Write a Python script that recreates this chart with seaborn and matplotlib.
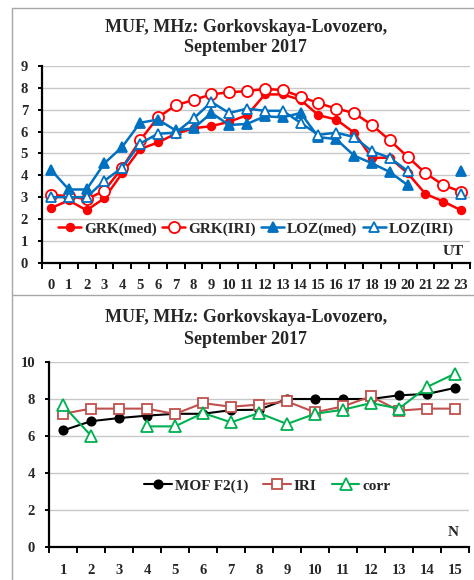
import numpy as np
import pandas as pd
import matplotlib
matplotlib.use("Agg")
import matplotlib.pyplot as plt
from matplotlib.lines import Line2D
import seaborn as sns

# ---------------- data ----------------
hours = list(range(24))
grk_med = [2.5, 2.85, 2.4, 2.95, 4.1, 5.2, 5.5, 5.9, 6.15, 6.25, 6.45, 6.75, 7.7, 7.7,
           7.45, 6.75, 6.55, 5.95, 4.8, 4.8, 4.1, 3.15, 2.8, 2.4]
grk_iri = [3.1, 3.05, 2.9, 3.3, 4.35, 5.6, 6.65, 7.2, 7.45, 7.7, 7.8, 7.85, 7.95, 7.9,
           7.6, 7.3, 7.05, 6.85, 6.3, 5.6, 4.85, 4.1, 3.55, 3.25]
loz_med = [4.25, 3.35, 3.35, 4.55, 5.3, 6.4, 6.55, 6.05, 6.15, 6.85, 6.3, 6.35, 6.7, 6.65,
           6.85, 5.75, 5.65, 4.9, 4.55, 4.15, 3.55, np.nan, np.nan, 4.2]
loz_iri = [3.0, 3.0, 3.0, 3.75, 4.35, 5.45, 5.9, 5.95, 6.6, 7.35, 6.85, 7.05, 6.95, 6.95,
           6.4, 5.85, 5.95, 5.75, 5.1, 4.8, 4.2, np.nan, np.nan, 3.15]
top_labels = ["GRK(med)", "GRK(IRI)", "LOZ(med)", "LOZ(IRI)"]

n_days = list(range(1, 16))
mof_f2 = [6.3, 6.8, 6.97, 7.1, 7.2, 7.2, 7.4, 7.42, 8.0, 8.0, 8.0, 8.0, 8.2, 8.27, 8.6]
iri = [7.2, 7.48, 7.48, 7.48, 7.19, 7.78, 7.58, 7.7, 7.87, 7.28, 7.6, 8.14, 7.37, 7.48, 7.48]
corr = [7.66, 6.02, np.nan, 6.52, 6.52, 7.24, 6.74, 7.24, 6.65, 7.2, 7.42, 7.78, 7.48, 8.65, 9.37]
bottom_labels = ["MOF F2(1)", "IRI", "corr"]

title_l1 = "MUF, MHz: Gorkovskaya-Lovozero,"
title_l2 = "September 2017"

# ---------------- style ----------------
sns.set_theme(style="white")
plt.rcParams["font.family"] = ["Liberation Serif", "DejaVu Serif"]
plt.rcParams["font.weight"] = "bold"

W, H = 474, 580
fig = plt.figure(figsize=(W / 100, H / 100), dpi=100)


def fx(px):
    return px / W


def fy(py):
    return 1 - py / H


def draw(ax, x, y, color, marker, ms, filled, lw=1.6, mew=1.3):
    y = np.asarray(y, dtype=float)
    seg = np.cumsum(np.isnan(y))
    df = pd.DataFrame({"x": x, "y": y, "seg": seg}).dropna()
    sns.lineplot(data=df, x="x", y="y", units="seg", estimator=None, ax=ax,
                 color=color, linewidth=lw, marker=marker, markersize=ms,
                 markeredgecolor=color, markeredgewidth=mew,
                 markerfacecolor=color if filled else "white", legend=False)
    return Line2D([], [], color=color, linewidth=lw, marker=marker, markersize=ms,
                  markeredgecolor=color, markeredgewidth=mew,
                  markerfacecolor=color if filled else "white")


def style_axes(ax, ymax, ystep, xmin, xmax, xticks):
    ax.set_xlim(xmin, xmax)
    ax.set_ylim(0, ymax)
    ax.set_yticks(np.arange(0, ymax + 0.01, ystep))
    ax.set_xticks(xticks)
    ax.set_xticks(np.arange(xmin, xmax + 0.01, 1), minor=True)
    ax.yaxis.grid(True, color="#C8C8C8", linewidth=1)
    ax.xaxis.grid(False)
    ax.set_axisbelow(True)
    for s in ["top", "right"]:
        ax.spines[s].set_visible(False)
    for s in ["left", "bottom"]:
        ax.spines[s].set_color("black")
        ax.spines[s].set_linewidth(1.6)
    ax.tick_params(axis="x", which="major", length=0, labelsize=10.5, pad=12)
    ax.tick_params(axis="x", which="minor", direction="out", length=4, width=1.4,
                   color="black", bottom=True)
    ax.tick_params(axis="y", which="major", direction="out", length=3, width=1.4,
                   color="black", left=True, labelsize=10.5, pad=7)
    for t in ax.get_xticklabels() + ax.get_yticklabels():
        t.set_fontweight("bold")
    ax.set_xlabel("")
    ax.set_ylabel("")


# ---------------- panel borders ----------------
border = "#A6A6A6"
fig.add_artist(Line2D([fx(12), fx(12)], [0, fy(8)], transform=fig.transFigure, color=border, lw=1))
fig.add_artist(Line2D([fx(12), 1], [fy(8), fy(8)], transform=fig.transFigure, color=border, lw=1))
fig.add_artist(Line2D([fx(12), 1], [fy(295), fy(295)], transform=fig.transFigure, color=border, lw=1))

# ---------------- top chart ----------------
ax1 = fig.add_axes([fx(42), fy(262.7), fx(470) - fx(42), fy(66) - fy(262.7)])
red = "#FF0000"
blue = "#0070C0"
h1 = draw(ax1, hours, grk_med, red, "o", 5.5, True, lw=1.8)
h2 = draw(ax1, hours, grk_iri, red, "o", 8, False, lw=1.8)
h3 = draw(ax1, hours, loz_med, blue, "^", 7.5, True, lw=1.8)
h4 = draw(ax1, hours, loz_iri, blue, "^", 7.5, False, lw=1.8)
style_axes(ax1, 9, 1, -0.5, 23.5, hours)
ax1.set_xticklabels([str(h) for h in hours], fontweight="bold")
ax1.legend([h1, h2, h3, h4], top_labels, ncol=4, loc="center", bbox_to_anchor=(0.5, 0.172),
           frameon=False, prop={"size": 11, "weight": "bold"}, handlelength=1.5,
           handletextpad=0.2, columnspacing=0.35, borderaxespad=0)
ax1.text(0.985, 0.055, "UT", transform=ax1.transAxes, ha="right", va="center",
         fontsize=11, fontweight="bold")

fig.text(fx(246), fy(28), title_l1, ha="center", va="center", fontsize=13, fontweight="bold")
fig.text(fx(246), fy(47), title_l2, ha="center", va="center", fontsize=13, fontweight="bold")

# ---------------- bottom chart ----------------
ax2 = fig.add_axes([fx(49), fy(547), fx(469) - fx(49), fy(362) - fy(547)])
g1 = draw(ax2, n_days, mof_f2, "black", "o", 6, True, lw=1.5)
g2 = draw(ax2, n_days, iri, "#C0504D", "s", 7, False, lw=1.5)
g3 = draw(ax2, n_days, corr, "#00B050", "^", 8, False, lw=1.5)
style_axes(ax2, 10, 2, 0.5, 15.5, n_days)
ax2.set_xticklabels([str(n) for n in n_days], fontweight="bold")
ax2.legend([g1, g2, g3], bottom_labels, ncol=3, loc="center", bbox_to_anchor=(0.52, 0.33),
           frameon=False, prop={"size": 11, "weight": "bold"}, handlelength=1.8,
           handletextpad=0.2, columnspacing=1.0, borderaxespad=0)
ax2.text(0.975, 0.08, "N", transform=ax2.transAxes, ha="right", va="center",
         fontsize=11, fontweight="bold")

fig.text(fx(246), fy(318), title_l1, ha="center", va="center", fontsize=13, fontweight="bold")
fig.text(fx(246), fy(339), title_l2, ha="center", va="center", fontsize=13, fontweight="bold")

fig.savefig("out.png", dpi=100)
